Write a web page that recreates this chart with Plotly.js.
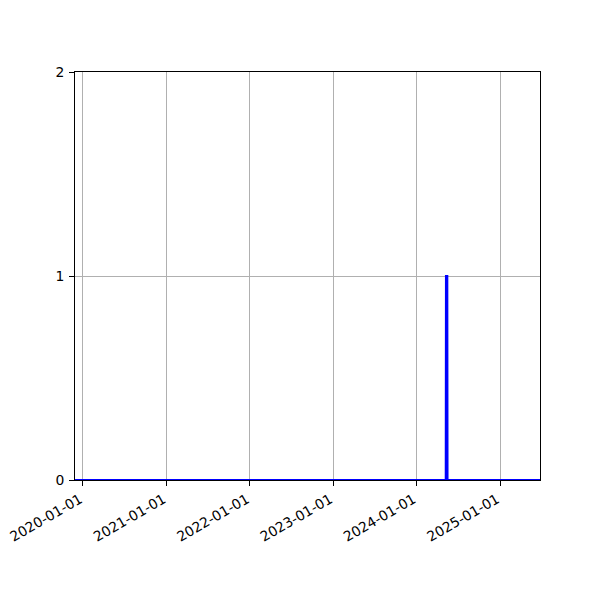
<!DOCTYPE html>
<html>
<head>
<meta charset="utf-8">
<script src="https://cdn.plot.ly/plotly-3.0.1.min.js"></script>
<style>html,body{margin:0;padding:0;background:#fff}#chart{width:600px;height:600px}</style>
</head>
<body>
<div id="chart"></div>
<script>
const dates = ["2019-11-27", "2024-05-08", "2024-05-09", "2024-05-15", "2024-05-16", "2025-06-25"];
const counts = [0, 0, 1, 1, 0, 0];
const xTickVals = ["2020-01-01", "2021-01-01", "2022-01-01", "2023-01-01", "2024-01-01", "2025-01-01"];
const yTickVals = [0, 1, 2];

const trace = {
  x: dates, y: counts, type: "scatter", mode: "lines",
  line: {color: "#0000ff", width: 2, shape: "linear"},
  hoverinfo: "skip"
};

const layout = {
  width: 600, height: 600,
  margin: {l: 75, r: 60, t: 72, b: 120},
  paper_bgcolor: "#fff", plot_bgcolor: "#fff",
  showlegend: false,
  font: {family: "DejaVu Sans", size: 13.9, color: "#000"},
  xaxis: {
    type: "date", range: ["2019-11-27", "2025-06-25"],
    tickvals: xTickVals, ticktext: xTickVals, tickangle: -30,
    ticks: "outside", ticklen: 5, tickwidth: 1, tickcolor: "#000",
    ticklabelstandoff: 0, ticklabelshift: -3,
    showgrid: true, gridcolor: "#b0b0b0", gridwidth: 1,
    showline: true, linecolor: "#000", linewidth: 1, mirror: true,
    zeroline: false
  },
  yaxis: {
    range: [0, 2], tickvals: yTickVals,
    ticks: "outside", ticklen: 5, tickwidth: 1, tickcolor: "#000",
    ticklabelstandoff: 2,
    showgrid: true, gridcolor: "#b0b0b0", gridwidth: 1,
    showline: true, linecolor: "#000", linewidth: 1, mirror: true,
    zeroline: false
  }
};

Plotly.newPlot("chart", [trace], layout, {displayModeBar: false, staticPlot: true});
</script>
</body>
</html>
